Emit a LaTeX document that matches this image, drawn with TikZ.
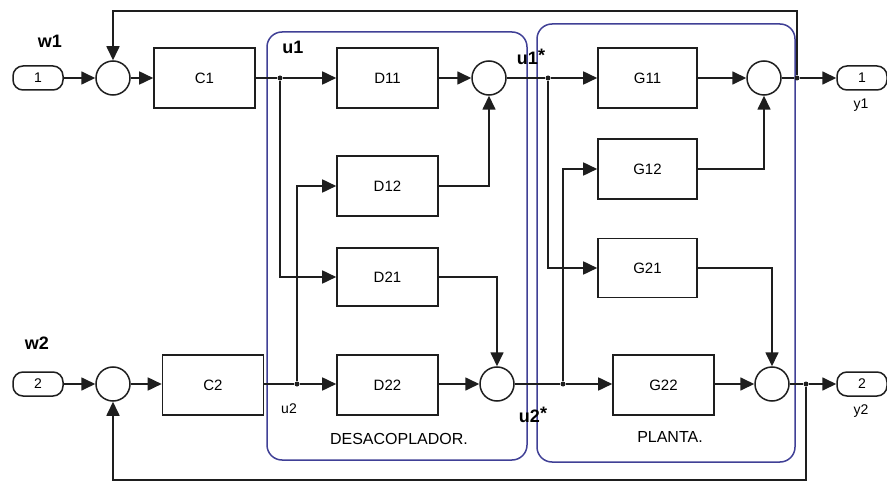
\documentclass[tikz,border=0pt]{standalone}
\usepackage{fontspec}
\setmainfont{Liberation Sans}
\usetikzlibrary{arrows.meta}
\definecolor{frameblue}{RGB}{64,64,150}
\definecolor{ink}{RGB}{30,30,30}
\begin{document}
\begin{tikzpicture}[x=1pt,y=-1pt,
  wire/.style={draw=ink,line width=1.7pt},
  arr/.style={wire,-{Triangle[length=14pt,width=13pt]}},
  blk/.style={draw=ink,line width=1.6pt,minimum width=101pt,minimum height=60pt,inner sep=0pt,font=\fontsize{15}{17}\selectfont},
  sumc/.style={draw=ink,circle,line width=1.5pt,minimum size=34pt,inner sep=0pt},
  port/.style={draw=ink,line width=1.5pt,rounded corners=10pt,minimum width=50pt,minimum height=24pt,inner sep=0pt,font=\fontsize{14}{16}\selectfont},
  dot/.style={circle,fill=ink,minimum size=5pt,inner sep=0pt},
  bigl/.style={font=\fontsize{18}{20}\selectfont\bfseries},
  smalll/.style={font=\fontsize{14}{16}\selectfont},
  frame/.style={draw=frameblue,line width=1.5pt,rounded corners=15pt},
  titl/.style={font=\fontsize{16}{18}\selectfont}]
\useasboundingbox[fill=white] (0,0) rectangle (887,484);

% group frames
\draw[frame] (267,32) rectangle (527,460);
\draw[frame] (537,24) rectangle (795,462);

% ports
\node[port] (in1) at (38,78) {1};
\node[port] (in2) at (38,384) {2};
\node[port] (out1) at (862,78) {1};
\node[port] (out2) at (862,384) {2};

% sums
\node[sumc] (s1) at (113,78) {};
\node[sumc] (s2) at (113,384) {};
\node[sumc] (sd1) at (489,78) {};
\node[sumc] (sd2) at (497,384) {};
\node[sumc] (sg1) at (764,78) {};
\node[sumc] (sg2) at (772,384) {};

% blocks
\node[blk] (C1) at (204.5,78) {C1};
\node[blk] (C2) at (213,385) {C2};
\node[blk] (D11) at (387.5,78) {D11};
\node[blk] (D12) at (387.5,186) {D12};
\node[blk,minimum height=58pt] (D21) at (387.5,277) {D21};
\node[blk] (D22) at (387.5,385) {D22};
\node[blk,minimum width=99pt] (G11) at (647.5,78) {G11};
\node[blk,minimum width=99pt] (G12) at (647.5,169) {G12};
\node[blk,minimum width=99pt,minimum height=59pt] (G21) at (647.5,268) {G21};
\node[blk] (G22) at (663.5,385) {G22};

% branch points
\node[dot] (b1) at (280,78) {};
\node[dot] (b2) at (297,384) {};
\node[dot] (b3) at (548,78) {};
\node[dot] (b4) at (563,384) {};
\node[dot] (b5) at (797,78) {};
\node[dot] (b6) at (806,384) {};
\coordinate (ftop) at (797,11);
\coordinate (fbot) at (806,480);

% row 1
\draw[arr] (in1) -- (s1);
\draw[arr] (s1) -- (C1);
\draw[wire] (C1) -- (b1);
\draw[arr] (b1) -- (D11);
\draw[arr] (D11) -- (sd1);
\draw[wire] (sd1) -- (b3);
\draw[arr] (b3) -- (G11);
\draw[arr] (G11) -- (sg1);
\draw[wire] (sg1) -- (b5);
\draw[arr] (b5) -- (out1);
\draw[arr] (b5) -- (ftop) -| (s1.north);

% row 2
\draw[arr] (in2) -- (s2);
\draw[arr] (s2) -- (C2.west |- s2);
\draw[wire] (C2.east |- b2) -- (b2);
\draw[arr] (b2) -- (D22.west |- b2);
\draw[arr] (D22.east |- sd2) -- (sd2);
\draw[wire] (sd2) -- (b4);
\draw[arr] (b4) -- (G22.west |- b4);
\draw[arr] (G22.east |- sg2) -- (sg2);
\draw[wire] (sg2) -- (b6);
\draw[arr] (b6) -- (out2);
\draw[arr] (b6) -- (fbot) -| (s2.south);

% cross couplings
\draw[arr] (b1) |- (D21.west);
\draw[arr] (b2) |- (D12.west);
\draw[arr] (D12.east) -| (sd1.south);
\draw[arr] (D21.east) -| (sd2.north);
\draw[arr] (b3) |- (G21.west);
\draw[arr] (b4) |- (G12.west);
\draw[arr] (G12.east) -| (sg1.south);
\draw[arr] (G21.east) -| (sg2.north);

% labels
\node[bigl] (lw1) at (50,41) {w1};
\node[bigl] (lw2) at (37,343) {w2};
\node[bigl] (lu1) at (293,47) {u1};
\node[bigl] (lu1s) at (531,57) {u1\raisebox{3pt}{*}};
\node[bigl] (lu2s) at (533,415) {u2\raisebox{3pt}{*}};
\node[smalll] (lu2) at (289,409) {u2};
\node[smalll] (ly1) at (861,105) {y1};
\node[smalll] (ly2) at (861,411) {y2};
\node[titl] (ldes) at (399,439) {DESACOPLADOR.};
\node[titl] (lpla) at (670,437) {PLANTA.};
\end{tikzpicture}
\end{document}
